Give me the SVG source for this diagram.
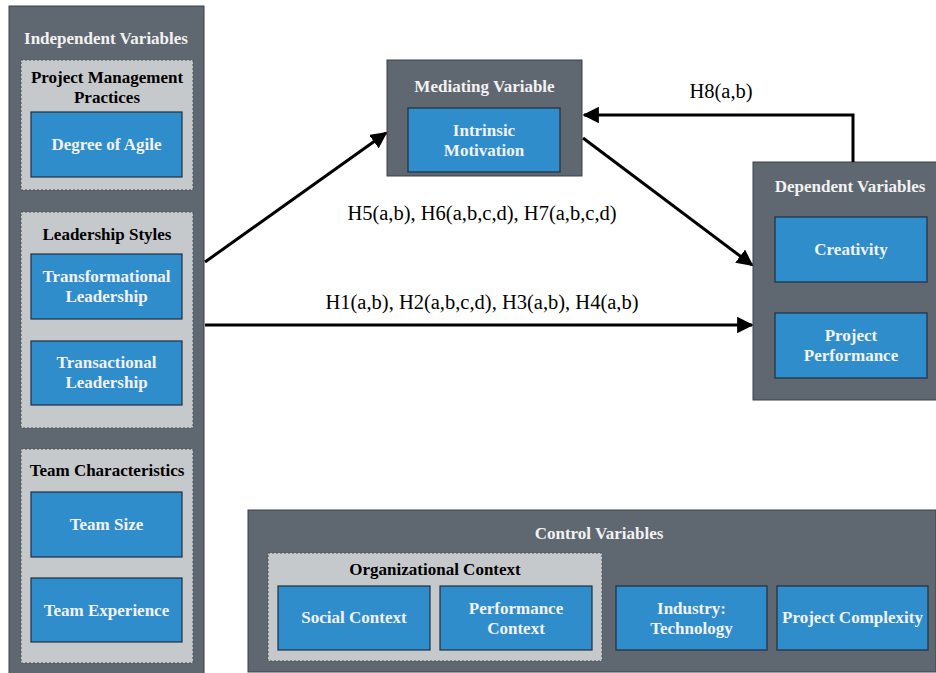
<svg xmlns="http://www.w3.org/2000/svg" width="936" height="673" viewBox="0 0 936 673">
  <defs>
    <marker id="arrow" viewBox="0 0 10 10" refX="9" refY="5" markerWidth="5.5" markerHeight="5.5" orient="auto" markerUnits="strokeWidth">
      <path d="M0,0 L10,5 L0,10 z" fill="#000"/>
    </marker>
    <style>
      .panel { fill: #5f6770; stroke: #3b4048; stroke-width: 1; }
      .group { fill: #c6c9cc; stroke: #4a4f55; stroke-width: 1; stroke-dasharray: 2 2; }
      .var { fill: #2f8dcc; stroke: #1e2f3e; stroke-width: 1.2; }
      text { font-weight: bold; text-anchor: middle; }
      .ptitle { fill: #f2f2f2; font-size: 17px; }
      .gtitle { fill: #000; font-size: 17px; }
      .vlabel { fill: #f2f2f2; font-size: 17px; }
      .hyp { fill: #000; font-weight: normal; font-size: 20.5px; }
      .edge { stroke: #000; stroke-width: 3; fill: none; }
    </style>
  </defs>

  <rect width="936" height="673" fill="#fff"/>

  <g font-family="Liberation Serif, DejaVu Serif, serif">
  <!-- Independent variables -->
  <g id="independent">
    <rect class="panel" x="9" y="6" width="195" height="675"/>
    <text class="ptitle" x="106" y="44">Independent Variables</text>
    <g id="pm-practices">
      <rect class="group" x="21" y="60" width="172" height="130"/>
      <text class="gtitle" x="107" y="83">Project Management</text>
      <text class="gtitle" x="107" y="103">Practices</text>
      <g id="agile">
        <rect class="var" x="31" y="112" width="151" height="65"/>
        <text class="vlabel" x="106.5" y="150">Degree of Agile</text>
      </g>
    </g>
    <g id="leadership">
      <rect class="group" x="21" y="212" width="172" height="216"/>
      <text class="gtitle" x="107" y="240">Leadership Styles</text>
      <g id="transformational">
        <rect class="var" x="31" y="254" width="151" height="65"/>
        <text class="vlabel" x="106.5" y="282">Transformational</text>
        <text class="vlabel" x="106.5" y="302">Leadership</text>
      </g>
      <g id="transactional">
        <rect class="var" x="31" y="341" width="151" height="64"/>
        <text class="vlabel" x="106.5" y="368">Transactional</text>
        <text class="vlabel" x="106.5" y="388">Leadership</text>
      </g>
    </g>
    <g id="team">
      <rect class="group" x="21" y="449" width="172" height="214"/>
      <text class="gtitle" x="107" y="476">Team Characteristics</text>
      <g id="team-size">
        <rect class="var" x="31" y="492" width="151" height="65"/>
        <text class="vlabel" x="106.5" y="530">Team Size</text>
      </g>
      <g id="team-experience">
        <rect class="var" x="31" y="578" width="151" height="64"/>
        <text class="vlabel" x="106.5" y="616">Team Experience</text>
      </g>
    </g>
  </g>

  <!-- Mediating variable -->
  <g id="mediating">
    <rect class="panel" x="387" y="60" width="195" height="116"/>
    <text class="ptitle" x="484.5" y="92">Mediating Variable</text>
    <g id="motivation">
      <rect class="var" x="408" y="108" width="152" height="64"/>
      <text class="vlabel" x="484" y="136">Intrinsic</text>
      <text class="vlabel" x="484" y="156">Motivation</text>
    </g>
  </g>

  <!-- Dependent variables -->
  <g id="dependent">
    <rect class="panel" x="753" y="162" width="190" height="238"/>
    <text class="ptitle" x="850" y="192">Dependent Variables</text>
    <g id="creativity">
      <rect class="var" x="775" y="217" width="152" height="65"/>
      <text class="vlabel" x="851" y="255">Creativity</text>
    </g>
    <g id="performance">
      <rect class="var" x="775" y="313" width="152" height="65"/>
      <text class="vlabel" x="851" y="341">Project</text>
      <text class="vlabel" x="851" y="361">Performance</text>
    </g>
  </g>

  <!-- Control variables -->
  <g id="control">
    <rect class="panel" x="248" y="510" width="688" height="162"/>
    <text class="ptitle" x="599" y="539">Control Variables</text>
    <g id="org-context">
      <rect class="group" x="268" y="553" width="334" height="108"/>
      <text class="gtitle" x="435" y="575">Organizational Context</text>
      <g id="social">
        <rect class="var" x="278" y="586" width="152" height="64"/>
        <text class="vlabel" x="354" y="623">Social Context</text>
      </g>
      <g id="perf-context">
        <rect class="var" x="440" y="586" width="152" height="64"/>
        <text class="vlabel" x="516" y="614">Performance</text>
        <text class="vlabel" x="516" y="634">Context</text>
      </g>
    </g>
    <g id="industry">
      <rect class="var" x="616" y="586" width="151" height="64"/>
      <text class="vlabel" x="691.5" y="614">Industry:</text>
      <text class="vlabel" x="691.5" y="634">Technology</text>
    </g>
    <g id="complexity">
      <rect class="var" x="777" y="586" width="151" height="64"/>
      <text class="vlabel" x="852.5" y="623">Project Complexity</text>
    </g>
  </g>

  <!-- Hypothesised paths -->
  <g id="connectors">
    <line class="edge" x1="205" y1="262" x2="386" y2="133" marker-end="url(#arrow)"/>
    <line class="edge" x1="205" y1="325" x2="752" y2="325" marker-end="url(#arrow)"/>
    <line class="edge" x1="583" y1="138" x2="752" y2="265" marker-end="url(#arrow)"/>
    <polyline class="edge" points="853,162 853,115 584,115" marker-end="url(#arrow)"/>
    <text class="hyp" x="482" y="220">H5(a,b), H6(a,b,c,d), H7(a,b,c,d)</text>
    <text class="hyp" x="482" y="309">H1(a,b), H2(a,b,c,d), H3(a,b), H4(a,b)</text>
    <text class="hyp" x="721" y="98">H8(a,b)</text>
  </g>
  </g>
</svg>
